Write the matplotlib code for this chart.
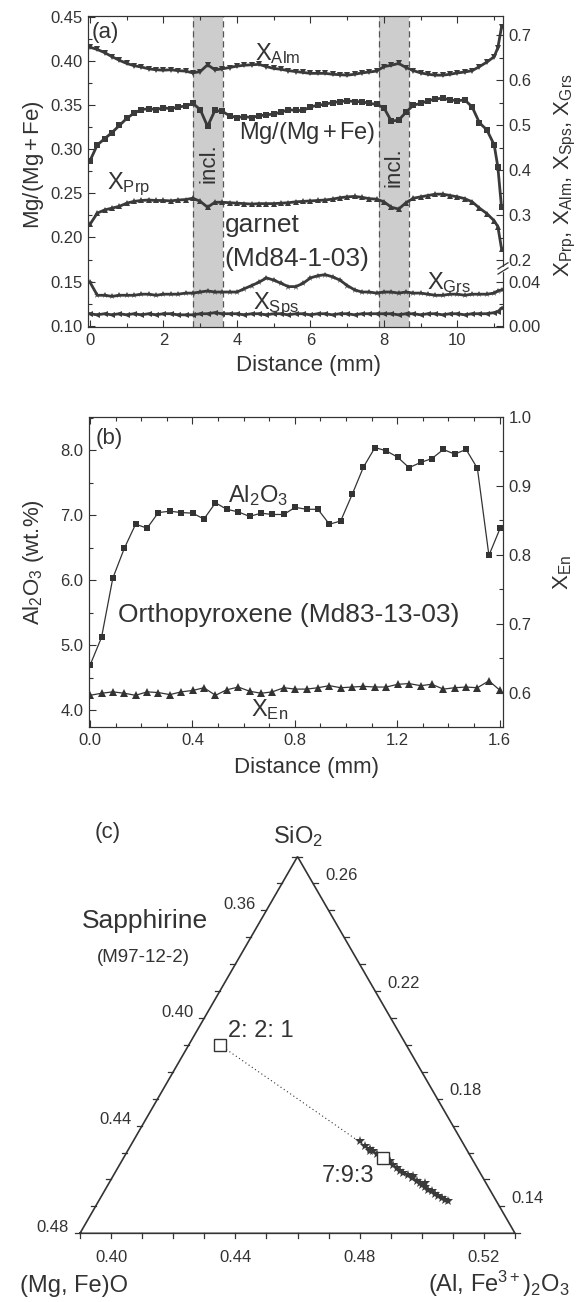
import numpy as np
import matplotlib.pyplot as plt
from matplotlib.ticker import MultipleLocator, FixedLocator, FormatStrFormatter
from matplotlib.patches import Rectangle
import matplotlib.transforms as mtransforms

plt.rcParams['font.family'] = ['Liberation Sans', 'DejaVu Sans']
plt.rcParams['mathtext.fontset'] = 'custom'
plt.rcParams['mathtext.rm'] = 'Liberation Sans'
plt.rcParams['mathtext.it'] = 'Liberation Sans:italic'
plt.rcParams['mathtext.sf'] = 'Liberation Sans'

INK = '#333333'
plt.rcParams['text.color'] = INK
plt.rcParams['axes.edgecolor'] = INK
plt.rcParams['xtick.color'] = INK
plt.rcParams['ytick.color'] = INK

# ---------------- panel (a): garnet profile ----------------
dist_a = [0.0, 0.2, 0.4, 0.6, 0.8, 1.0, 1.2, 1.4, 1.6, 1.8,
          2.0, 2.2, 2.4, 2.6, 2.8, 3.0, 3.2, 3.4, 3.6, 3.8,
          4.0, 4.2, 4.4, 4.6, 4.8, 5.0, 5.2, 5.4, 5.6, 5.8,
          6.0, 6.2, 6.4, 6.6, 6.8, 7.0, 7.2, 7.4, 7.6, 7.8,
          8.0, 8.2, 8.4, 8.6, 8.8, 9.0, 9.2, 9.4, 9.6, 9.8,
          10.0, 10.2, 10.4, 10.6, 10.8, 11.0, 11.1, 11.2]
x_alm = [0.673, 0.668, 0.661, 0.652, 0.644, 0.637, 0.632, 0.629, 0.625, 0.623,
         0.622, 0.623, 0.621, 0.620, 0.616, 0.619, 0.634, 0.623, 0.625, 0.628,
         0.631, 0.633, 0.634, 0.635, 0.630, 0.626, 0.624, 0.621, 0.619, 0.617,
         0.615, 0.615, 0.615, 0.613, 0.612, 0.611, 0.613, 0.616, 0.618, 0.620,
         0.630, 0.633, 0.637, 0.628, 0.621, 0.616, 0.613, 0.611, 0.611, 0.613,
         0.616, 0.618, 0.621, 0.630, 0.640, 0.652, 0.672, 0.718]
mg_num = [0.287, 0.305, 0.312, 0.319, 0.327, 0.335, 0.341, 0.345, 0.346, 0.345,
          0.347, 0.346, 0.348, 0.349, 0.352, 0.345, 0.326, 0.344, 0.343, 0.338,
          0.336, 0.337, 0.336, 0.338, 0.339, 0.340, 0.342, 0.345, 0.344, 0.344,
          0.348, 0.350, 0.351, 0.353, 0.354, 0.355, 0.354, 0.354, 0.352, 0.351,
          0.347, 0.332, 0.333, 0.342, 0.350, 0.352, 0.355, 0.357, 0.358, 0.356,
          0.355, 0.356, 0.348, 0.330, 0.322, 0.305, 0.280, 0.234]
x_prp = [0.280, 0.305, 0.312, 0.316, 0.320, 0.327, 0.331, 0.333, 0.334, 0.333,
         0.333, 0.332, 0.334, 0.335, 0.338, 0.331, 0.318, 0.329, 0.329, 0.328,
         0.327, 0.326, 0.325, 0.326, 0.326, 0.326, 0.327, 0.328, 0.330, 0.331,
         0.332, 0.333, 0.334, 0.336, 0.339, 0.341, 0.342, 0.340, 0.337, 0.336,
         0.330, 0.318, 0.314, 0.328, 0.338, 0.341, 0.344, 0.347, 0.347, 0.344,
         0.341, 0.337, 0.330, 0.316, 0.304, 0.288, 0.275, 0.226]
x_sps = [0.040, 0.028, 0.028, 0.027, 0.028, 0.028, 0.028, 0.029, 0.029, 0.028,
         0.029, 0.029, 0.029, 0.030, 0.030, 0.031, 0.032, 0.031, 0.031, 0.031,
         0.031, 0.034, 0.037, 0.040, 0.044, 0.042, 0.039, 0.036, 0.036, 0.039,
         0.044, 0.046, 0.047, 0.045, 0.042, 0.037, 0.033, 0.031, 0.031, 0.030,
         0.031, 0.031, 0.030, 0.031, 0.030, 0.030, 0.029, 0.028, 0.028, 0.029,
         0.029, 0.028, 0.029, 0.029, 0.029, 0.030, 0.032, 0.033]
x_grs = [0.011, 0.010, 0.011, 0.010, 0.011, 0.010, 0.011, 0.010, 0.011, 0.010,
         0.011, 0.011, 0.010, 0.010, 0.010, 0.011, 0.011, 0.012, 0.011, 0.011,
         0.011, 0.010, 0.011, 0.011, 0.010, 0.011, 0.011, 0.010, 0.011, 0.011,
         0.010, 0.011, 0.011, 0.010, 0.011, 0.011, 0.010, 0.011, 0.011, 0.011,
         0.011, 0.011, 0.010, 0.011, 0.011, 0.010, 0.011, 0.011, 0.010, 0.011,
         0.011, 0.010, 0.011, 0.011, 0.011, 0.012, 0.013, 0.016]
incl_bands = [(2.81, 3.61), (7.87, 8.68)]
right_major = [0.0, 0.04, 0.2, 0.3, 0.4, 0.5, 0.6, 0.7]
right_labels = ['0.00', '0.04', '0.2', '0.3', '0.4', '0.5', '0.6', '0.7']
right_minor = [0.02, 0.25, 0.35, 0.45, 0.55, 0.65]

# ---------------- panel (b): orthopyroxene profile ----------------
dist_b = [0.000, 0.045, 0.089, 0.134, 0.178, 0.223, 0.267, 0.312, 0.356, 0.401,
          0.445, 0.490, 0.534, 0.579, 0.623, 0.668, 0.712, 0.757, 0.801, 0.846,
          0.890, 0.935, 0.979, 1.024, 1.068, 1.113, 1.157, 1.202, 1.246, 1.291,
          1.335, 1.380, 1.424, 1.469, 1.513, 1.558, 1.602]
al2o3 = [4.69, 5.12, 6.03, 6.49, 6.86, 6.80, 7.04, 7.06, 7.04, 7.03,
         6.94, 7.19, 7.09, 7.05, 6.98, 7.03, 7.01, 7.01, 7.12, 7.09,
         7.09, 6.86, 6.91, 7.32, 7.74, 8.04, 7.99, 7.89, 7.73, 7.81,
         7.87, 8.01, 7.94, 8.01, 7.72, 6.38, 6.80]
x_en = [0.596, 0.599, 0.601, 0.599, 0.596, 0.601, 0.600, 0.597, 0.601, 0.603,
        0.607, 0.596, 0.604, 0.608, 0.602, 0.599, 0.601, 0.607, 0.605, 0.605,
        0.607, 0.610, 0.607, 0.608, 0.609, 0.608, 0.608, 0.612, 0.613, 0.610,
        0.612, 0.605, 0.607, 0.608, 0.607, 0.617, 0.603]

# ---------------- panel (c): sapphirine ternary ----------------
# fractions of (Al,Fe3+)2O3 and SiO2; (Mg,Fe)O is the remainder
spr_al = [0.4630, 0.4656, 0.4677, 0.4681, 0.4692, 0.4708, 0.4745, 0.4764, 0.4781,
          0.4798, 0.4814, 0.4828, 0.4849, 0.4865, 0.4867, 0.4887, 0.4901, 0.4911,
          0.4917, 0.4925, 0.4940, 0.4954, 0.4969, 0.4984, 0.4998, 0.5012, 0.5026]
spr_si = [0.1642, 0.1623, 0.1614, 0.1605, 0.1605, 0.1595, 0.1574, 0.1568, 0.1555,
          0.1543, 0.1533, 0.1524, 0.1516, 0.1506, 0.1512, 0.1493, 0.1487, 0.1478,
          0.1487, 0.1471, 0.1462, 0.1456, 0.1446, 0.1437, 0.1431, 0.1425, 0.1419]
ideal_names = ['2: 2: 1', '7:9:3']
ideal_mg = [2, 7]
ideal_al = [2, 9]
ideal_si = [1, 3]

W, H = 577, 1302
fig = plt.figure(figsize=(W / 100, H / 100), dpi=100)


def fig_xy(px, py):
    return px / W, 1 - py / H


def right_to_left(r):
    r = np.asarray(r, float)
    return np.where(r < 0.1, 0.10 + r * 1.231, 0.174 + (r - 0.2) * 0.511)


def tick_style(ax):
    ax.tick_params(which='both', direction='in', labelsize=12, width=0.8, pad=4)
    ax.tick_params(which='major', length=5)
    ax.tick_params(which='minor', length=3)


# ---- (a)
ax_a = fig.add_axes([88 / W, 1 - 327 / H, 415 / W, 311 / H])
ax_a.set_xlim(-0.054, 11.24)
ax_a.set_ylim(0.0985, 0.4511)
for lo, hi in incl_bands:
    ax_a.axvspan(lo, hi, color='#cdcdcd', lw=0, zorder=0)
    for xv in (lo, hi):
        ax_a.axvline(xv, color='#555555', lw=0.9, ls=(0, (5, 3)), zorder=1)

kw = dict(color='#3a3a3a', lw=2.0, mew=0, zorder=3)
ax_a.plot(dist_a, right_to_left(x_alm), marker='v', ms=4.2, **kw)
ax_a.plot(dist_a, mg_num, marker='s', ms=3.8, **kw)
ax_a.plot(dist_a, right_to_left(x_prp), marker='^', ms=4.2, **kw)
ax_a.plot(dist_a, right_to_left(x_sps), marker='*', ms=4.5, **kw)
ax_a.plot(dist_a, right_to_left(x_grs), marker='<', ms=3.8, **kw)

ax_a.xaxis.set_major_locator(MultipleLocator(2))
ax_a.xaxis.set_minor_locator(MultipleLocator(1))
ax_a.yaxis.set_major_locator(MultipleLocator(0.05))
ax_a.yaxis.set_minor_locator(MultipleLocator(0.025))
ax_a.yaxis.set_major_formatter(FormatStrFormatter('%.2f'))
tick_style(ax_a)
ax_a.tick_params(which='both', top=True, right=False)

ax_ar = ax_a.twinx()
ax_ar.set_ylim(ax_a.get_ylim())
ax_ar.yaxis.set_major_locator(FixedLocator(right_to_left(right_major)))
ax_ar.set_yticklabels(right_labels)
ax_ar.yaxis.set_minor_locator(FixedLocator(right_to_left(right_minor)))
tick_style(ax_ar)

# axis break on the right spine
blend = mtransforms.blended_transform_factory(ax_ar.transAxes, ax_ar.transData)
ax_ar.add_patch(Rectangle((0.985, 0.1625), 0.03, 0.0045, transform=blend,
                          color='white', clip_on=False, zorder=6))
for dy in (0.0, 0.0058):
    ax_ar.plot([0.988, 1.012], [0.1585 + dy, 0.1655 + dy], transform=blend,
               color=INK, lw=0.9, clip_on=False, zorder=7)

ax_a.text(0.05, 0.432, '(a)', fontsize=16, va='center', ha='left')
ax_a.text(4.49, 0.4015, r'X$_{\rm Alm}$', fontsize=17)
ax_a.text(4.05, 0.3122, r'Mg/(Mg$\,$+$\,$Fe)', fontsize=17)
ax_a.text(0.454, 0.2553, r'X$_{\rm Prp}$', fontsize=17)
ax_a.text(3.67, 0.206, 'garnet', fontsize=19)
ax_a.text(3.67, 0.168, '(Md84-1-03)', fontsize=19)
ax_a.text(4.44, 0.1193, r'X$_{\rm Sps}$', fontsize=17)
ax_a.text(9.16, 0.141, r'X$_{\rm Grs}$', fontsize=17)
for xv, yv in [(3.23, 0.284), (8.28, 0.280)]:
    ax_a.text(xv, yv, 'incl.', fontsize=16, rotation=90, ha='center', va='center')

fig.text(*fig_xy(33, 165), r'Mg/(Mg$\,$+$\,$Fe)', fontsize=16, rotation=90,
         ha='center', va='center')
fig.text(*fig_xy(565, 175),
         r'X$_{\rm Prp}$, X$_{\rm Alm}$, X$_{\rm Sps}$, X$_{\rm Grs}$',
         fontsize=16, rotation=90, ha='center', va='center')
fig.text(*fig_xy(309, 365), 'Distance (mm)', fontsize=16, ha='center', va='center')

# ---- (b)
ax_b = fig.add_axes([89 / W, 1 - 727 / H, 414 / W, 310 / H])
ax_b.set_xlim(-0.004, 1.613)
ax_b.set_ylim(3.74, 8.51)
ax_b.plot(dist_b, al2o3, marker='s', ms=4, lw=0.9, color=INK, mew=0, zorder=3)
ax_b.xaxis.set_major_locator(MultipleLocator(0.4))
ax_b.xaxis.set_minor_locator(MultipleLocator(0.1))
ax_b.xaxis.set_major_formatter(FormatStrFormatter('%.1f'))
ax_b.yaxis.set_major_locator(MultipleLocator(1.0))
ax_b.yaxis.set_minor_locator(MultipleLocator(0.5))
ax_b.yaxis.set_major_formatter(FormatStrFormatter('%.1f'))
tick_style(ax_b)
ax_b.tick_params(which='both', top=True, right=False)

ax_br = ax_b.twinx()
ax_br.set_ylim(0.55, 1.0)
ax_br.plot(dist_b, x_en, marker='^', ms=6, lw=0.9, color=INK, mew=0, zorder=3)
ax_br.yaxis.set_major_locator(MultipleLocator(0.1))
ax_br.yaxis.set_minor_locator(MultipleLocator(0.05))
ax_br.yaxis.set_major_formatter(FormatStrFormatter('%.1f'))
tick_style(ax_br)

ax_b.text(0.02, 8.18, '(b)', fontsize=16, va='center', ha='left')
ax_b.text(0.54, 7.20, r'Al$_2$O$_3$', fontsize=17)
ax_b.text(0.111, 5.35, 'Orthopyroxene (Md83-13-03)', fontsize=19)
ax_br.text(0.628, 0.566, r'X$_{\rm En}$', fontsize=17)

fig.text(*fig_xy(33, 562), r'Al$_2$O$_3$ (wt.%)', fontsize=16, rotation=90,
         ha='center', va='center')
fig.text(*fig_xy(563, 572), r'X$_{\rm En}$', fontsize=16, rotation=90,
         ha='center', va='center')
fig.text(*fig_xy(307, 768), 'Distance (mm)', fontsize=16, ha='center', va='center')

# ---- (c) ternary
AL0, SI0, SPAN = 0.39, 0.13, 0.14
S3 = np.sqrt(3) / 2
PX = 1 / 435


def tern(al, si):
    u = (np.asarray(al, float) - AL0) / SPAN
    t = (np.asarray(si, float) - SI0) / SPAN
    return u + t / 2, t * S3


ax_c = fig.add_axes([0, 0, 1, 512 / H])
ax_c.set_xlim(-80 * PX, 497 * PX)
ax_c.set_ylim(-(H - 1233.3) * PX, (1233.3 - 790) * PX)
ax_c.axis('off')

ax_c.plot([0, 1, 0.5, 0], [0, 0, S3, 0], color=INK, lw=1.2, solid_joinstyle='miter')
tl = 5 * PX
ticks = np.round(np.arange(0, 0.1401, 0.01), 2)
for k in ticks:
    # bottom: (Al,Fe)2O3
    x, y = tern(AL0 + k, SI0)
    ax_c.plot([x, x], [y, y - tl], color=INK, lw=0.9)
    # left: (Mg,Fe)O
    x, y = tern(AL0, 1 - AL0 - (0.34 + k))
    ax_c.plot([x, x - tl], [y, y], color=INK, lw=0.9)
    # right: SiO2
    x, y = tern(1 - 0.34 - (SI0 + k), SI0 + k)
    ax_c.plot([x, x + tl], [y, y], color=INK, lw=0.9)

for v in [0.40, 0.44, 0.48, 0.52]:
    x, y = tern(v, SI0)
    ax_c.text(x, y - 24 * PX, f'{v:.2f}', fontsize=12, ha='center', va='center')
for v in [0.36, 0.40, 0.44, 0.48]:
    x, y = tern(AL0, 1 - AL0 - v)
    ax_c.text(x - 11 * PX, y + 6 * PX, f'{v:.2f}', fontsize=12, ha='right', va='center')
for v in [0.14, 0.18, 0.22, 0.26]:
    x, y = tern(1 - 0.34 - v, v)
    ax_c.text(x + 12 * PX, y + 8 * PX, f'{v:.2f}', fontsize=12, ha='left', va='center')

ideal_x, ideal_y = [], []
for m, a, s in zip(ideal_mg, ideal_al, ideal_si):
    tot = m + a + s
    x, y = tern(a / tot, s / tot)
    ideal_x.append(float(x))
    ideal_y.append(float(y))
ax_c.plot(ideal_x, ideal_y, ls=(0, (1, 2.5)), lw=0.8, color=INK, zorder=2)
sx, sy = tern(spr_al, spr_si)
ax_c.plot(sx, sy, ls='none', marker='*', ms=7.5, color='#3a3a3a', mew=0, zorder=3)
ax_c.plot(ideal_x, ideal_y, ls='none', marker='s', ms=8.5, mfc='white',
          mec=INK, mew=1.0, zorder=4)

ax_c.text(0.341, 0.4506, ideal_names[0], fontsize=17)
ax_c.text(0.5556, 0.1186, ideal_names[1], fontsize=17)
ax_c.text(0.0345, 0.908, '(c)', fontsize=16)
ax_c.text(0.444, 0.8966, r'SiO$_2$', fontsize=17)
ax_c.text(0.0039, 0.701, 'Sapphirine', fontsize=19)
ax_c.text(0.0383, 0.624, '(M97-12-2)', fontsize=13.5)
ax_c.text(0.1103, -0.134, '(Mg, Fe)O', fontsize=17, ha='right')
ax_c.text(1.126, -0.134, r'(Al, Fe$^{3+}$)$_2$O$_3$', fontsize=17, ha='right')

fig.savefig('out.png', dpi=100)
